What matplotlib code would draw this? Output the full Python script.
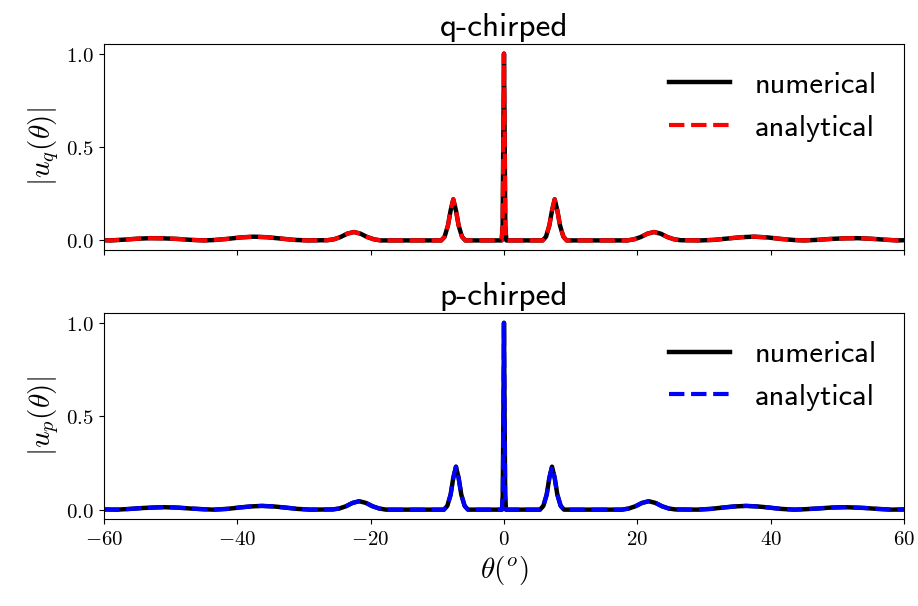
import numpy as np
import matplotlib
matplotlib.use("Agg")
import matplotlib.pyplot as plt

plt.rcParams["mathtext.fontset"] = "cm"

# angle samples (deg) and |u|
theta_q = [-60, -59, -57, -55, -53, -51, -49, -47, -45, -43.5, -41.5, -39.5, -37.5, -35.5,
           -33.5, -31.5, -29.5, -26.5, -25.5, -24.5, -23.5, -22.5, -21.5, -20.5, -19.5, -18.5,
           -9.4, -8.9, -8.4, -8.0, -7.6, -7.2, -6.8, -6.3, -5.8,
           -0.35, -0.2, -0.1, 0, 0.1, 0.2, 0.35,
           5.8, 6.3, 6.8, 7.2, 7.6, 8.0, 8.4, 8.9, 9.4,
           18.5, 19.5, 20.5, 21.5, 22.5, 23.5, 24.5, 25.5, 26.5, 29.5,
           31.5, 33.5, 35.5, 37.5, 39.5, 41.5, 43.5, 45, 47, 49, 51, 53, 55, 57, 59, 60]
uq = [0.001, 0.0, 0.004, 0.009, 0.012, 0.011, 0.008, 0.003, 0.0, 0.002, 0.008, 0.016,
      0.020, 0.017, 0.010, 0.003, 0.0, 0.001, 0.006, 0.018, 0.036, 0.045, 0.036, 0.018,
      0.006, 0.0,
      0.0, 0.02, 0.08, 0.16, 0.22, 0.16, 0.08, 0.02, 0.0,
      0.0, 0.08, 0.55, 1.0, 0.55, 0.08, 0.0,
      0.0, 0.02, 0.08, 0.16, 0.22, 0.16, 0.08, 0.02, 0.0,
      0.0, 0.006, 0.018, 0.036, 0.045, 0.036, 0.018, 0.006, 0.001, 0.0,
      0.003, 0.010, 0.017, 0.020, 0.016, 0.008, 0.002, 0.0, 0.003, 0.008, 0.011, 0.012,
      0.009, 0.004, 0.0, 0.001]

theta_p = [-60, -58, -56, -54, -52, -51, -49, -47, -45, -43.5, -41.5, -39.5, -38, -36.3,
           -34.5, -32.5, -31, -29, -25.7, -24.7, -23.7, -22.7, -21.7, -20.7, -19.7, -18.7,
           -17.7, -9.0, -8.5, -8.0, -7.6, -7.2, -6.8, -6.4, -5.9, -5.4,
           -0.3, -0.18, -0.08, 0, 0.08, 0.18, 0.3,
           5.4, 5.9, 6.4, 6.8, 7.2, 7.6, 8.0, 8.5, 9.0,
           17.7, 18.7, 19.7, 20.7, 21.7, 22.7, 23.7, 24.7, 25.7, 29,
           31, 32.5, 34.5, 36.3, 38, 39.5, 41.5, 43.5, 45, 47, 49, 51, 52, 54, 56, 58, 60]
up = [0.001, 0.0, 0.004, 0.009, 0.012, 0.013, 0.011, 0.006, 0.002, 0.0, 0.004, 0.012,
      0.017, 0.020, 0.017, 0.010, 0.004, 0.0, 0.001, 0.006, 0.018, 0.036, 0.045, 0.036,
      0.018, 0.006, 0.0,
      0.0, 0.02, 0.08, 0.17, 0.23, 0.17, 0.08, 0.02, 0.0,
      0.0, 0.08, 0.55, 1.0, 0.55, 0.08, 0.0,
      0.0, 0.02, 0.08, 0.17, 0.23, 0.17, 0.08, 0.02, 0.0,
      0.0, 0.006, 0.018, 0.036, 0.045, 0.036, 0.018, 0.006, 0.001, 0.0,
      0.004, 0.010, 0.017, 0.020, 0.017, 0.012, 0.004, 0.0, 0.002, 0.006, 0.011, 0.013,
      0.012, 0.009, 0.004, 0.0, 0.001]

xticks = [-60, -40, -20, 0, 20, 40, 60]
yticks = [0.0, 0.5, 1.0]

fig, (ax1, ax2) = plt.subplots(2, 1, sharex=True, figsize=(9.18, 6.06), dpi=100)
fig.subplots_adjust(left=0.113, right=0.985, top=0.927, bottom=0.1436, hspace=0.31)

panels = [(ax1, theta_q, uq, "red", "q-chirped", r"$|u_q(\theta)|$"),
          (ax2, theta_p, up, "blue", "p-chirped", r"$|u_p(\theta)|$")]

for ax, th, u, col, title, ylab in panels:
    ax.plot(th, u, color="black", lw=3.2, label="numerical")
    ax.plot(th, u, color=col, lw=3.0, ls="--", label="analytical")
    ax.set_xlim(-60, 60)
    ax.set_title(title, fontsize=24, fontfamily="cmss10")
    ax.set_ylabel(ylab, fontsize=21)
    ax.set_yticks(yticks, [f"${t:.1f}$" for t in yticks], fontsize=15)
    ax.legend(loc="upper right", frameon=False, prop={"family": "cmss10", "size": 22},
              labelspacing=0.5)

ax2.set_xticks(xticks, [f"${t}$" for t in xticks], fontsize=15)
ax2.set_xlabel(r"$\theta(^o)$", fontsize=21)

plt.savefig("out.png", dpi=100)
